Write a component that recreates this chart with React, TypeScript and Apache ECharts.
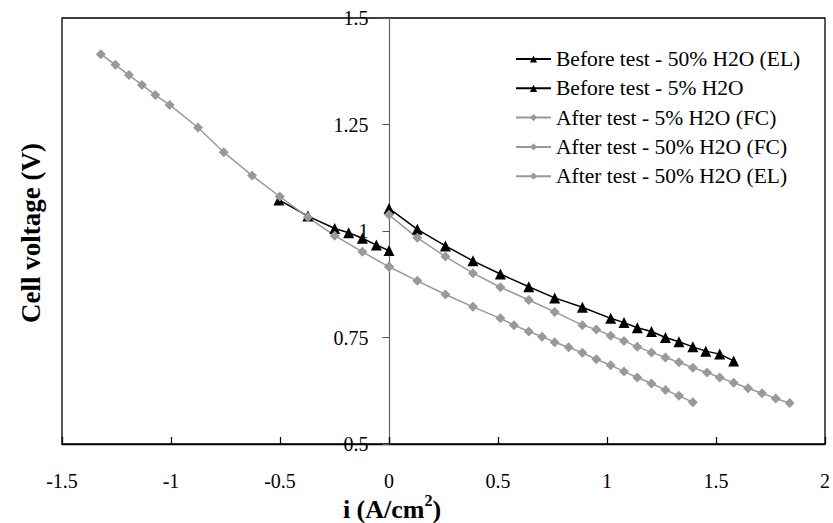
import React, { useEffect, useRef } from "react";
import * as echarts from "echarts";

const FONT = "Liberation Serif";

const xTicks = { min: -1.5, max: 2, interval: 0.5 };
const yTicks = { min: 0.5, max: 1.5, interval: 0.25 };

const seriesNames = [
  "Before test - 50% H2O (EL)",
  "Before test - 5% H2O",
  "After test - 5% H2O (FC)",
  "After test - 50% H2O (FC)",
  "After test - 50% H2O (EL)",
];

// Before test - 50% H2O (EL)
const beforeEL50_i = [-0.505, -0.372, -0.249, -0.185, -0.122, -0.058, 0];
const beforeEL50_v = [1.073, 1.035, 1.006, 0.996, 0.983, 0.967, 0.954];

// Before test - 5% H2O
const before5_i = [0, 0.13, 0.259, 0.385, 0.511, 0.641, 0.76, 0.887, 1.017, 1.078, 1.139, 1.204, 1.268, 1.33, 1.394, 1.453, 1.517, 1.581];
const before5_v = [1.053, 1.004, 0.965, 0.93, 0.899, 0.869, 0.843, 0.821, 0.795, 0.785, 0.773, 0.764, 0.75, 0.74, 0.728, 0.718, 0.711, 0.695];

// After test - 5% H2O (FC)
const after5FC_i = [0, 0.13, 0.259, 0.385, 0.511, 0.641, 0.76, 0.887, 0.951, 1.017, 1.078, 1.139, 1.204, 1.268, 1.33, 1.394, 1.459, 1.517, 1.581, 1.647, 1.711, 1.774, 1.838];
const after5FC_v = [1.038, 0.984, 0.94, 0.901, 0.868, 0.838, 0.81, 0.779, 0.769, 0.754, 0.742, 0.728, 0.715, 0.703, 0.692, 0.679, 0.668, 0.656, 0.644, 0.631, 0.619, 0.607, 0.596];

// After test - 50% H2O (FC)
const after50FC_i = [0, 0.13, 0.259, 0.385, 0.511, 0.573, 0.641, 0.702, 0.76, 0.824, 0.887, 0.951, 1.017, 1.078, 1.139, 1.204, 1.268, 1.33, 1.394];
const after50FC_v = [0.916, 0.883, 0.851, 0.822, 0.795, 0.779, 0.764, 0.752, 0.739, 0.727, 0.714, 0.699, 0.685, 0.67, 0.656, 0.642, 0.627, 0.613, 0.598];

// After test - 50% H2O (EL)
const after50EL_i = [-1.322, -1.255, -1.193, -1.133, -1.072, -1.006, -0.876, -0.758, -0.628, -0.501, -0.372, -0.249, -0.122, 0];
const after50EL_v = [1.415, 1.39, 1.366, 1.343, 1.319, 1.296, 1.243, 1.185, 1.13, 1.081, 1.032, 0.989, 0.951, 0.916];

const BLACK = "#000000";
const GRAY = "#999999";

const zip = (a: number[], b: number[]) => a.map((v, k) => [v, b[k]]);

const GRID_LEFT = 62;
const GRID_RIGHT = 7;
const CHART_W = 833;

export default function App() {
  const ref = useRef<HTMLDivElement>(null);

  useEffect(() => {
    document.body.style.margin = "0";
    if (!ref.current) return;
    const chart = echarts.init(ref.current, undefined, { renderer: "svg" });

    const gridW = CHART_W - GRID_LEFT - GRID_RIGHT;
    const zeroOffset = (gridW * (0 - xTicks.min)) / (xTicks.max - xTicks.min);

    const mk = (name: string, data: number[][], color: string, symbol: string, size: number) => ({
      name,
      type: "line",
      data,
      symbol,
      symbolSize: size,
      showSymbol: true,
      lineStyle: { color, width: 1.5 },
      itemStyle: { color },
      emphasis: { disabled: true },
    });

    chart.setOption({
      animation: false,
      backgroundColor: "#ffffff",
      textStyle: { fontFamily: FONT },
      grid: {
        left: GRID_LEFT,
        right: GRID_RIGHT,
        top: 18,
        bottom: 79,
        show: true,
        borderColor: "#000",
        borderWidth: 1.3,
        backgroundColor: "transparent",
      },
      legend: {
        data: seriesNames,
        orient: "vertical",
        left: 515,
        top: 48,
        padding: 0,
        itemWidth: 35,
        itemHeight: 9,
        itemGap: 7.3,
        textStyle: { fontFamily: FONT, fontSize: 21.5, color: "#000" },
      },
      xAxis: {
        type: "value",
        min: xTicks.min,
        max: xTicks.max,
        interval: xTicks.interval,
        axisLine: { onZero: false, lineStyle: { color: "#000", width: 1.3 } },
        axisTick: { inside: true, length: 7, lineStyle: { color: "#000", width: 1.3 } },
        axisLabel: { fontFamily: FONT, fontSize: 20, color: "#000", margin: 27 },
        splitLine: { show: false },
      },
      yAxis: {
        type: "value",
        position: "left",
        offset: -zeroOffset,
        min: yTicks.min,
        max: yTicks.max,
        interval: yTicks.interval,
        axisLine: { onZero: false, lineStyle: { color: "#666", width: 1.2 } },
        axisTick: { inside: false, length: 7, lineStyle: { color: "#555" } },
        axisLabel: { fontFamily: FONT, fontSize: 20, color: "#000", margin: 21 },
        splitLine: { show: false },
      },
      series: [
        mk(seriesNames[0], zip(beforeEL50_i, beforeEL50_v), BLACK, "triangle", 11),
        mk(seriesNames[1], zip(before5_i, before5_v), BLACK, "triangle", 11),
        mk(seriesNames[2], zip(after5FC_i, after5FC_v), GRAY, "diamond", 10),
        mk(seriesNames[3], zip(after50FC_i, after50FC_v), GRAY, "diamond", 10),
        mk(seriesNames[4], zip(after50EL_i, after50EL_v), GRAY, "diamond", 10),
      ],
      graphic: [
        {
          type: "text",
          x: 31,
          y: 233,
          rotation: Math.PI / 2,
          style: {
            text: "Cell voltage (V)",
            fontFamily: FONT,
            fontWeight: "bold",
            fontSize: 27,
            fill: "#000",
            align: "center",
            verticalAlign: "middle",
          },
        },
        {
          type: "text",
          x: 392,
          y: 507,
          style: {
            text: "{b|i (A/cm}{s|2}{b|)}",
            align: "center",
            verticalAlign: "middle",
            rich: {
              b: { fontFamily: FONT, fontWeight: "bold", fontSize: 26, fill: "#000", lineHeight: 30, verticalAlign: "bottom" },
              s: { fontFamily: FONT, fontWeight: "bold", fontSize: 16, fill: "#000", lineHeight: 30, verticalAlign: "top" },
            },
          },
        },
      ],
    });

    return () => chart.dispose();
  }, []);

  return <div ref={ref} style={{ width: 833, height: 523 }} />;
}
